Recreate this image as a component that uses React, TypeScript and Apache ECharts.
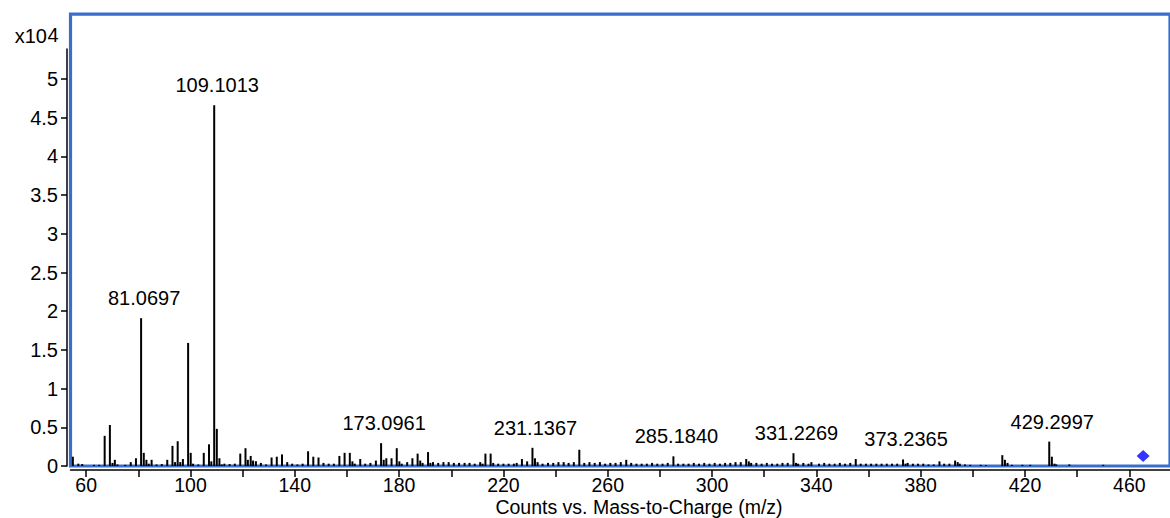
import React, { useEffect, useRef } from "react";
import * as echarts from "echarts";

// Labelled peaks (m/z, counts)
const labelMz = [81.0697, 109.1013, 173.0961, 231.1367, 285.184, 331.2269, 373.2365, 429.2997];
const labelCounts = [19100, 46600, 2950, 2350, 1250, 1650, 850, 3150];

// Other peaks (m/z, counts)
const minorMz = [
  54.9, 57, 58.5, 63, 65, 67.1, 69.1, 70.1, 71.0, 72, 75, 77.1, 79.1, 82.1, 83.1, 84, 85.1, 87, 89,
  91.1, 93.1, 94.1, 95.1, 96.1, 97.1, 99.1, 100.1, 101, 103, 105.1, 107.1, 108, 110.1, 111.1, 112,
  113, 115, 117, 119.1, 121.1, 122, 123.1, 124, 125.1, 127, 129, 131.1, 133.1, 135.1, 137.1, 139,
  141, 143, 145.1, 147.1, 149.1, 151, 153, 155, 157.1, 159.1, 161.1, 162.1, 163, 165.1, 167, 169,
  171.1, 174.1, 175.1, 177.1, 179.1, 180.1, 181, 183.1, 185.1, 187.1, 188.1, 189, 191.1, 192, 193,
  195, 197, 199, 201, 203, 205.1, 207, 209, 211.1, 212, 213.1, 215.1, 216.1, 218, 220, 222, 224,
  225.1, 227.1, 229.1, 232.1, 233.1, 235, 237.1, 239.1, 241.1, 243.1, 245, 247, 249.1, 251, 253,
  255, 257, 259, 261, 263, 265, 267.1, 269, 271, 273, 275, 277, 279, 281, 283, 287, 289, 291, 293,
  295, 297, 299, 301, 303, 305, 307, 309, 311, 313.1, 314.1, 315, 317, 319, 321, 323, 325, 327,
  329, 332.2, 333, 335, 337, 338.1, 341, 343, 345, 347, 349, 351, 353, 355.1, 357, 359, 361, 363,
  365, 367, 369, 371, 374.2, 375, 377, 379, 381, 383, 385, 387.2, 389, 391, 393.2, 394.2, 395, 397,
  399, 403, 405, 411.3, 412.3, 413.3, 415, 419, 422, 430.3, 431.3, 432, 437, 450,
];
const minorCounts = [
  1200, 300, 250, 150, 150, 3900, 5300, 400, 800, 200, 150, 500, 1000, 1700, 800, 300, 800, 200, 250,
  800, 2600, 500, 3200, 500, 900, 15900, 1700, 300, 200, 1700, 2800, 600, 4800, 1000, 200,
  300, 250, 300, 1600, 2300, 800, 1300, 700, 600, 400, 200, 1100, 1200, 1500, 500, 300,
  200, 300, 1900, 1200, 1100, 400, 300, 300, 1300, 1700, 1700, 600, 300, 900, 300, 400,
  700, 800, 1000, 1000, 2300, 600, 300, 500, 1000, 1600, 700, 400, 1800, 400, 500,
  400, 500, 500, 400, 400, 400, 400, 300, 500, 300, 1600, 1600, 400, 300, 300, 300, 300,
  400, 900, 600, 1000, 500, 300, 400, 400, 500, 500, 400, 500, 2100, 400, 500,
  400, 500, 300, 400, 400, 500, 800, 400, 300, 300, 300, 400, 300, 300, 400, 300, 300, 300, 400,
  300, 400, 300, 400, 300, 400, 400, 500, 500, 900, 600, 400, 400, 300, 400, 300, 300, 400,
  400, 400, 300, 400, 300, 500, 300, 400, 300, 300, 400, 300, 400, 900, 300, 300, 300, 300,
  300, 300, 300, 300, 300, 400, 300, 300, 300, 200, 200, 600, 300, 300, 700, 500, 300, 200,
  150, 150, 100, 1400, 800, 400, 150, 150, 150, 1200, 300, 200, 200, 150,
];

// Precursor marker
const precursorMz = [465.3];
const precursorCounts = [1300];

// Axis ticks
const xTickValues = [60, 80, 100, 120, 140, 160, 180, 200, 220, 240, 260, 280, 300, 320, 340, 360, 380, 400, 420, 440, 460];
const xLabelValues = [60, 100, 140, 180, 220, 260, 300, 340, 380, 420, 460];
const yTickValues = [0, 5000, 10000, 15000, 20000, 25000, 30000, 35000, 40000, 45000, 50000];

const FONT = "Liberation Sans, Arial, Helvetica, sans-serif";
const FRAME = "#3a6ecb";

export default function App() {
  const ref = useRef<HTMLDivElement>(null);

  useEffect(() => {
    if (!ref.current) return;
    const chart = echarts.init(ref.current, undefined, { renderer: "svg" });

    const barData: any[] = [];
    minorMz.forEach((m, i) => barData.push({ value: [m, minorCounts[i]] }));
    labelMz.forEach((m, i) =>
      barData.push({
        value: [m, labelCounts[i]],
        label: {
          show: true,
          position: "top",
          distance: 10,
          offset: [3, 0],
          formatter: m.toFixed(4),
          fontSize: 20,
          fontFamily: FONT,
          color: "#000",
        },
      })
    );

    const option: any = {
      animation: false,
      grid: [
        {
          left: 70.5,
          top: 14.2,
          right: -2,
          bottom: 52,
          show: true,
          borderColor: FRAME,
          borderWidth: 3.2,
          backgroundColor: "transparent",
        },
        { left: 67, top: 49, right: -2, bottom: 52, show: false },
      ],
      xAxis: [
        {
          type: "value",
          gridIndex: 0,
          min: 54,
          max: 475.6,
          offset: 4,
          splitLine: { show: false },
          axisLine: { show: true, onZero: false, lineStyle: { color: "#000", width: 1.5 } },
          axisTick: { show: true, length: 7, customValues: xTickValues, lineStyle: { color: "#000", width: 1.5 } },
          axisLabel: {
            customValues: xLabelValues,
            margin: 7,
            fontSize: 19.5,
            lineHeight: 16,
            fontFamily: FONT,
            color: "#000",
          },
        },
        { type: "value", gridIndex: 1, min: 54, max: 475.6, show: false },
      ],
      yAxis: [
        { type: "value", gridIndex: 0, min: 0, max: 58372, show: false },
        {
          type: "value",
          gridIndex: 1,
          min: 0,
          max: 53876,
          splitLine: { show: false },
          axisLine: { show: true, lineStyle: { color: "#000", width: 1.5 } },
          axisTick: { show: true, length: 6, customValues: yTickValues, lineStyle: { color: "#000", width: 1.5 } },
          axisLabel: {
            customValues: yTickValues,
            margin: 9,
            fontSize: 20,
            lineHeight: 18,
            fontFamily: FONT,
            color: "#000",
            formatter: (v: number) => String(v / 10000),
          },
        },
      ],
      series: [
        {
          type: "bar",
          xAxisIndex: 0,
          yAxisIndex: 0,
          barWidth: 2,
          itemStyle: { color: "#000" },
          data: barData,
          z: 3,
        },
        {
          type: "scatter",
          xAxisIndex: 0,
          yAxisIndex: 0,
          symbol: "diamond",
          symbolSize: [13, 12],
          itemStyle: { color: "#0000ff" },
          data: precursorMz.map((m, i) => [m, precursorCounts[i]]),
          z: 4,
        },
      ],
      graphic: [
        {
          type: "text",
          x: 47,
          y: 36.3,
          style: { text: "x10", fontSize: 20, fontFamily: FONT, fill: "#000", align: "right", verticalAlign: "middle" },
        },
        {
          type: "text",
          x: 58.5,
          y: 34.5,
          style: { text: "4", fontSize: 20, fontFamily: FONT, fill: "#000", align: "right", verticalAlign: "middle" },
        },
        {
          type: "text",
          x: 639,
          y: 506.5,
          style: {
            text: "Counts vs. Mass-to-Charge (m/z)",
            fontSize: 19.5,
            lineHeight: 15,
            fontFamily: FONT,
            fill: "#000",
            align: "center",
            verticalAlign: "middle",
          },
        },
      ],
    };

    chart.setOption(option);
    return () => chart.dispose();
  }, []);

  return (
    <div
      ref={ref}
      style={{ position: "fixed", left: 0, top: 0, width: 1170, height: 518, background: "#fff" }}
    />
  );
}
